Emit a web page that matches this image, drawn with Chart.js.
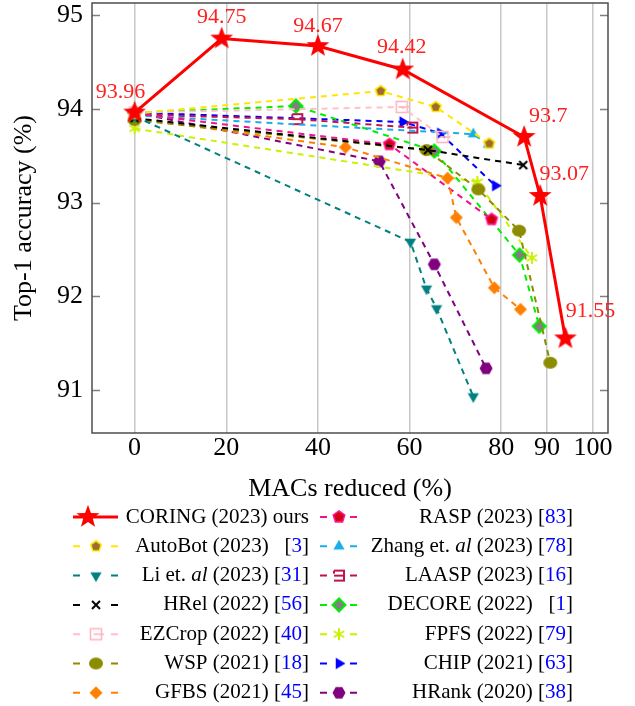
<!DOCTYPE html>
<html>
<head>
<meta charset="utf-8">
<script src="https://cdn.jsdelivr.net/npm/chart.js@4.4.0/dist/chart.umd.min.js"></script>
<style>
  body { margin: 0; background: #fff; }
  #chart { display: block; }
</style>
</head>
<body>
<canvas id="chart" width="635" height="706"></canvas>
<script>
// axis ticks
const xTicks = [0, 20, 40, 60, 80, 90, 100];
const yTicks = [91, 92, 93, 94, 95];

// MACs reduced (%) / top-1 accuracy (%) per method
const coringX = [0, 19, 40, 58.5, 85, 88.5, 94];
const coringY = [93.96, 94.75, 94.67, 94.42, 93.7, 93.07, 91.55];
const autobotX = [0, 53.7, 65.7, 77.4];
const autobotY = [93.95, 94.19, 94.02, 93.63];
const liX = [0, 60.2, 63.7, 65.9, 73.9];
const liY = [93.92, 92.58, 92.08, 91.87, 90.93];
const hrelX = [0, 64, 84.8];
const hrelY = [93.9, 93.56, 93.4];
const ezcropX = [0, 58.3, 67.2];
const ezcropY = [93.96, 94.02, 93.7];
const wspX = [0, 63.7, 75, 83.9, 90.7];
const wspY = [93.88, 93.56, 93.14, 92.7, 91.29];
const gfbsX = [0, 46, 68.3, 70.2, 78.5, 84.2];
const gfbsY = [93.9, 93.59, 93.26, 92.84, 92.09, 91.86];
const raspX = [0, 55.6, 77.9];
const raspY = [93.95, 93.62, 92.82];
const zhangX = [0, 73.9, 77.2];
const zhangY = [93.93, 93.73, 93.62];
const laaspX = [0, 35.5, 60.6];
const laaspY = [93.94, 93.89, 93.8];
const decoreX = [0, 35.2, 65.4, 84, 88.3];
const decoreY = [93.96, 94.03, 93.55, 92.44, 91.68];
const fpfsX = [0, 74.8, 86.7];
const fpfsY = [93.79, 93.22, 92.41];
const chipX = [0, 58.5, 66.7, 78.7];
const chipY = [93.96, 93.86, 93.74, 93.18];
const hrankX = [0, 53.4, 65.4, 76.7];
const hrankY = [93.96, 93.44, 92.34, 91.23];

const SERIF = '"Liberation Serif", "DejaVu Serif", serif';

const toPoints = (xs, ys) => xs.map((x, i) => ({ x: x, y: ys[i] }));

// little canvases used as point styles
const makeMarker = (size, draw) => {
    const c = document.createElement('canvas');
    c.width = size; c.height = size;
    const ctx = c.getContext('2d');
    ctx.translate(size / 2, size / 2);
    draw(ctx);
    return c;
}
const polygon = (ctx, n, r, rot) => {
    ctx.beginPath();
    for (let i = 0; i < n; i++) {
        const a = rot + i * 2 * Math.PI / n;
        ctx.lineTo(r * Math.cos(a), r * Math.sin(a));
    }
    ctx.closePath();
}

const markers = {
    star: makeMarker(28, ctx => {
        ctx.beginPath();
        for (let i = 0; i < 10; i++) {
            const r = i % 2 ? 5 : 12;
            const a = -Math.PI / 2 + i * Math.PI / 5;
            ctx.lineTo(r * Math.cos(a), r * Math.sin(a));
        }
        ctx.closePath();
        ctx.fillStyle = '#ff0000';
        ctx.fill();
    }),
    autobot: makeMarker(16, ctx => {
        polygon(ctx, 5, 5.5, -Math.PI / 2);
        ctx.fillStyle = '#9c6b30'; ctx.fill();
        ctx.strokeStyle = '#ffe600'; ctx.lineWidth = 1.6; ctx.stroke();
    }),
    li: makeMarker(16, ctx => {
        polygon(ctx, 3, 6.5, Math.PI / 2);
        ctx.fillStyle = '#008080'; ctx.fill();
    }),
    hrel: makeMarker(14, ctx => {
        ctx.strokeStyle = '#000'; ctx.lineWidth = 2;
        ctx.beginPath();
        ctx.moveTo(-4, -4); ctx.lineTo(4, 4);
        ctx.moveTo(-4, 4); ctx.lineTo(4, -4);
        ctx.stroke();
    }),
    ezcrop: makeMarker(18, ctx => {
        ctx.strokeStyle = '#ffb6c1'; ctx.lineWidth = 1.6;
        ctx.strokeRect(-5.5, -5.5, 11, 11);
        ctx.beginPath(); ctx.moveTo(-2.5, 0); ctx.lineTo(8, 0); ctx.stroke();
    }),
    wsp: makeMarker(18, ctx => {
        ctx.beginPath(); ctx.ellipse(0, 0, 7, 6, 0, 0, 2 * Math.PI);
        ctx.fillStyle = '#8c8c00'; ctx.fill();
    }),
    gfbs: makeMarker(16, ctx => {
        polygon(ctx, 4, 6.5, 0);
        ctx.fillStyle = '#ff8000'; ctx.fill();
    }),
    rasp: makeMarker(16, ctx => {
        polygon(ctx, 5, 6, -Math.PI / 2);
        ctx.fillStyle = '#d00010'; ctx.fill();
        ctx.strokeStyle = '#ff1493'; ctx.lineWidth = 1.6; ctx.stroke();
    }),
    zhang: makeMarker(16, ctx => {
        polygon(ctx, 3, 6.5, -Math.PI / 2);
        ctx.fillStyle = '#1aaee8'; ctx.fill();
    }),
    laasp: makeMarker(16, ctx => {
        ctx.strokeStyle = '#c0144c'; ctx.lineWidth = 2;
        ctx.beginPath();
        ctx.moveTo(-5, -5); ctx.lineTo(5, -5); ctx.lineTo(5, 5); ctx.lineTo(-5, 5);
        ctx.moveTo(-5, 0); ctx.lineTo(5, 0);
        ctx.moveTo(-5, -5); ctx.lineTo(-5, -2);
        ctx.stroke();
    }),
    decore: makeMarker(18, ctx => {
        polygon(ctx, 4, 6.5, 0);
        ctx.fillStyle = '#808080'; ctx.fill();
        ctx.strokeStyle = '#00ee00'; ctx.lineWidth = 2; ctx.stroke();
    }),
    fpfs: makeMarker(16, ctx => {
        ctx.strokeStyle = '#ccf000'; ctx.lineWidth = 2;
        ctx.beginPath();
        for (let i = 0; i < 3; i++) {
            const a = Math.PI / 2 + i * Math.PI / 3;
            ctx.moveTo(6 * Math.cos(a), 6 * Math.sin(a));
            ctx.lineTo(-6 * Math.cos(a), -6 * Math.sin(a));
        }
        ctx.stroke();
    }),
    chip: makeMarker(16, ctx => {
        polygon(ctx, 3, 6.5, 0);
        ctx.fillStyle = '#0000ff'; ctx.fill();
    }),
    hrank: makeMarker(16, ctx => {
        polygon(ctx, 6, 6.5, 0);
        ctx.fillStyle = '#800080'; ctx.fill();
    })
};

const series = [
    { label: 'CORING (2023) ours', xs: coringX, ys: coringY, color: '#ff0000', marker: 'star', solid: true, cite: '' },
    { label: 'AutoBot (2023)', xs: autobotX, ys: autobotY, color: '#ffe600', marker: 'autobot', cite: '3' },
    { label: 'Li et. |al| (2023)', xs: liX, ys: liY, color: '#008080', marker: 'li', cite: '31' },
    { label: 'HRel (2022)', xs: hrelX, ys: hrelY, color: '#000000', marker: 'hrel', cite: '56' },
    { label: 'EZCrop (2022)', xs: ezcropX, ys: ezcropY, color: '#ffc0c8', marker: 'ezcrop', cite: '40' },
    { label: 'WSP (2021)', xs: wspX, ys: wspY, color: '#8c8c00', marker: 'wsp', cite: '18' },
    { label: 'GFBS (2021)', xs: gfbsX, ys: gfbsY, color: '#ff8000', marker: 'gfbs', cite: '45' },
    { label: 'RASP (2023)', xs: raspX, ys: raspY, color: '#f0148c', marker: 'rasp', cite: '83' },
    { label: 'Zhang et. |al| (2023)', xs: zhangX, ys: zhangY, color: '#1aaee8', marker: 'zhang', cite: '78' },
    { label: 'LAASP (2023)', xs: laaspX, ys: laaspY, color: '#c0144c', marker: 'laasp', cite: '16' },
    { label: 'DECORE (2022)', xs: decoreX, ys: decoreY, color: '#00ee00', marker: 'decore', cite: '1' },
    { label: 'FPFS (2022)', xs: fpfsX, ys: fpfsY, color: '#ccf000', marker: 'fpfs', cite: '79' },
    { label: 'CHIP (2021)', xs: chipX, ys: chipY, color: '#0000ff', marker: 'chip', cite: '63' },
    { label: 'HRank (2020)', xs: hrankX, ys: hrankY, color: '#800080', marker: 'hrank', cite: '38' }
];

// image point styles are drawn at their own size, radius only keeps the
// layout from reserving overflow room above the plot
const datasets = series.map(s => ({
    label: s.label,
    data: toPoints(s.xs, s.ys),
    borderColor: s.color,
    backgroundColor: s.color,
    borderWidth: s.solid ? 3 : 2,
    borderDash: s.solid ? [] : [6, 5],
    pointStyle: markers[s.marker],
    pointRadius: 1,
    pointBorderWidth: 0,
    pointHoverRadius: 1,
    tension: 0,
    fill: false
}));

// offsets of the value labels over the CORING points
const coringLabelShift = [[-14, -20], [0, -21], [0, -20], [-1, -22], [24, -21], [24, -22], [25, -27]];

const framePlugin = {
    id: 'frame',
    beforeDatasetsDraw(chart) {
        const { ctx, chartArea: a, scales } = chart;
        ctx.save();
        ctx.strokeStyle = '#808080';
        ctx.lineWidth = 1.3;
        yTicks.forEach(v => {
            const y = Math.round(scales.y.getPixelForValue(v)) + 0.5;
            ctx.beginPath();
            ctx.moveTo(a.left, y); ctx.lineTo(a.left + 8, y);
            ctx.moveTo(a.right, y); ctx.lineTo(a.right - 8, y);
            ctx.stroke();
        });
        ctx.strokeStyle = '#4d4d4d';
        ctx.lineWidth = 1.5;
        ctx.strokeRect(a.left, a.top, a.right - a.left, a.bottom - a.top);
        ctx.restore();
    }
};

const valueLabelPlugin = {
    id: 'valueLabels',
    afterDatasetsDraw(chart) {
        const { ctx } = chart;
        const meta = chart.getDatasetMeta(0);
        ctx.save();
        ctx.font = '22px ' + SERIF;
        ctx.fillStyle = '#ff2020';
        ctx.textAlign = 'center';
        ctx.textBaseline = 'middle';
        meta.data.forEach((pt, i) => {
            const [dx, dy] = coringLabelShift[i];
            ctx.fillText(String(coringY[i]), pt.x + dx, pt.y + dy);
        });
        ctx.restore();
    }
};

// two-column legend under the plot, text right aligned, citations in blue
const legendPlugin = {
    id: 'sideLegend',
    afterDraw(chart) {
        const { ctx } = chart;
        const rowY = 517, rowGap = 29.3;
        const cols = [
            { from: 73, to: 118, mark: 96, right: 309 },
            { from: 320, to: 357, mark: 339, right: 573 }
        ];
        ctx.save();
        ctx.textBaseline = 'middle';
        series.forEach((s, i) => {
            const col = cols[i < 7 ? 0 : 1];
            const y = rowY + (i % 7) * rowGap;
            // sample
            ctx.strokeStyle = s.color;
            ctx.lineWidth = s.solid ? 3 : 2;
            ctx.beginPath();
            if (s.solid) {
                ctx.moveTo(col.from, y); ctx.lineTo(col.to, y);
            } else {
                ctx.moveTo(col.from, y); ctx.lineTo(col.from + 7, y);
                ctx.moveTo(col.to - 7, y); ctx.lineTo(col.to, y);
            }
            ctx.stroke();
            const m = markers[s.marker];
            const mx = s.solid ? col.mark - 8 : col.mark;
            ctx.drawImage(m, mx - m.width / 2, y - m.height / 2);
            // text runs, right to left
            const runs = [];
            s.label.split('|').forEach((t, k) => runs.push({ t: t, italic: k % 2 === 1, color: '#000' }));
            if (s.cite) {
                runs.push({ t: s.cite.length === 1 ? '   ' : ' ', color: '#000' });
                runs.push({ t: '[', color: '#000' });
                runs.push({ t: s.cite, color: '#0000ff' });
                runs.push({ t: ']', color: '#000' });
            }
            let x = col.right;
            ctx.textAlign = 'right';
            for (let k = runs.length - 1; k >= 0; k--) {
                const r = runs[k];
                ctx.font = (r.italic ? 'italic ' : '') + '21px ' + SERIF;
                ctx.fillStyle = r.color;
                ctx.fillText(r.t, x, y);
                x -= ctx.measureText(r.t).width;
            }
        });
        ctx.restore();
    }
};

const ctx = document.getElementById('chart').getContext('2d');
const chart = new Chart(ctx, {
    type: 'line',
    data: { datasets: datasets },
    options: {
        responsive: false,
        animation: false,
        events: [],
        layout: { padding: { top: 3, right: 27, bottom: 196, left: 0 } },
        plugins: {
            legend: { display: false },
            tooltip: { enabled: false }
        },
        scales: {
            x: {
                type: 'linear',
                min: -9.3,
                max: 103.3,
                afterBuildTicks: scale => { scale.ticks = xTicks.map(v => ({ value: v })); },
                afterFit: scale => { scale.height = 77; scale.paddingLeft = 0; scale.paddingRight = 0; },
                grid: { color: '#c8c8c8', lineWidth: 1.5, drawTicks: false },
                border: { display: false },
                ticks: { font: { family: SERIF, size: 26 }, color: '#000', padding: 0, maxRotation: 0 },
                title: {
                    display: true,
                    text: 'MACs reduced (%)',
                    font: { family: SERIF, size: 26 },
                    color: '#000',
                    padding: { top: 0, bottom: 5 }
                }
            },
            y: {
                type: 'linear',
                min: 90.54,
                max: 95.13,
                afterBuildTicks: scale => { scale.ticks = yTicks.map(v => ({ value: v })); },
                afterFit: scale => { scale.width = 92; scale.paddingTop = 0; scale.paddingBottom = 0; },
                grid: { display: false, drawTicks: false },
                border: { display: false },
                ticks: { font: { family: SERIF, size: 26 }, color: '#000', padding: 9 },
                title: {
                    display: true,
                    text: 'Top-1 accuracy (%)',
                    font: { family: SERIF, size: 26 },
                    color: '#000',
                    padding: { top: 9, bottom: 0 }
                }
            }
        }
    },
    plugins: [framePlugin, valueLabelPlugin, legendPlugin]
});
</script>
</body>
</html>
